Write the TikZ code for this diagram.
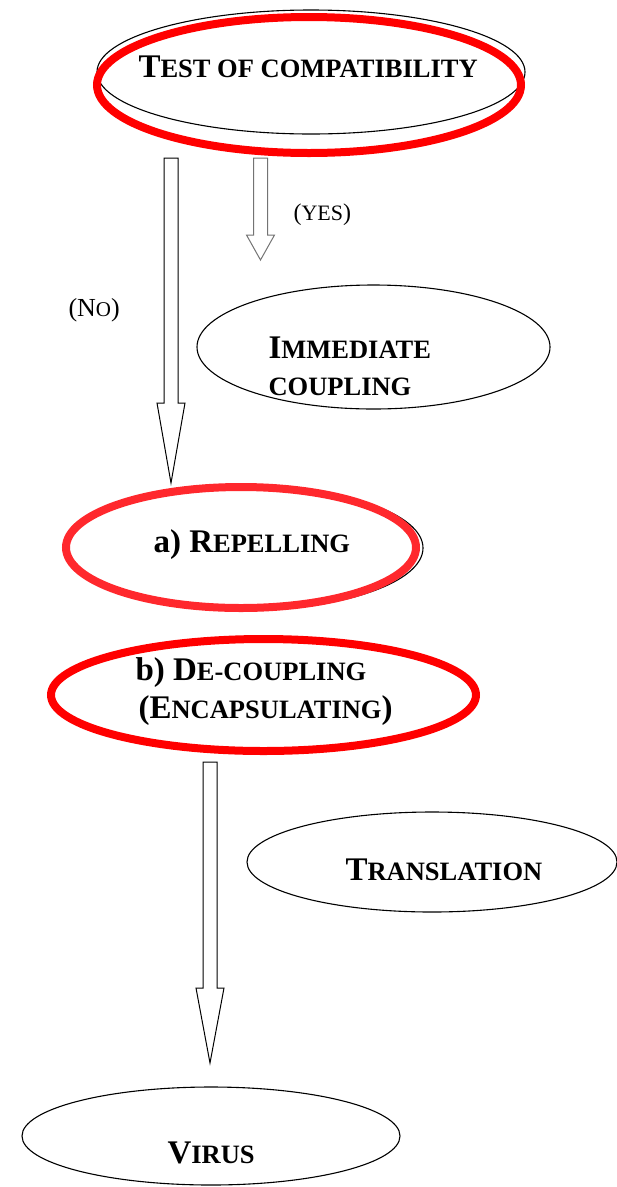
\documentclass[tikz,border=0pt]{standalone}
\usepackage{fontspec}
\setmainfont{Liberation Serif}
\usepackage{tikz}
\usetikzlibrary{shapes.geometric}
\usetikzlibrary{calc}
\usepackage{xcolor}
\definecolor{softred}{RGB}{255,40,45}
% small caps made by hand: first letter large, rest smaller
\newcommand\scword[2]{{\fontsize{33}{36}\selectfont#1}{\fontsize{26.5}{28}\selectfont#2}}
\newcommand\bigsym[1]{{\fontsize{33}{36}\selectfont#1}}
% hollow block arrow pointing down: options, top, tip, head length
\newcommand\hollowdown[4][]{\draw[#1] let \p1=(#2), \p2=(#3) in (\x1-7pt,\y1) -- (\x1-7pt,\y2+#4) -- (\x1-14pt,\y2+#4) -- (\x2,\y2) -- (\x1+14pt,\y2+#4) -- (\x1+7pt,\y2+#4) -- (\x1+7pt,\y1) -- cycle;}

\begin{document}
\begin{tikzpicture}[x=1pt,y=-1pt,line width=1.1pt,
  oval/.style={ellipse,draw,inner sep=0pt},
  redoval/.style={ellipse,draw=red,line width=8pt,inner sep=0pt},
  txt/.style={anchor=base west,inner sep=0pt,font=\bfseries}]
\useasboundingbox (0,0) rectangle (617,1187);

\node [oval,minimum width=428,minimum height=124] (test) at (311,72) {};
\node [redoval,minimum width=424,minimum height=136] (testred) at (309,85) {};
\node [txt] (testtext) at (138,77) {\scword{T}{EST OF COMPATIBILITY}};

\node [oval,minimum width=353,minimum height=124] (immediate) at (373.5,347) {};
\node [txt] (immtext1) at (268,358) {\scword{I}{MMEDIATE}};
\node [txt] (immtext2) at (268,395) {\fontsize{26.5}{28}\selectfont COUPLING};

\node [oval,minimum width=356,minimum height=124] (repel) at (245,548) {};
\node [redoval,draw=softred,minimum width=350,minimum height=121] (repelred) at (241,547.5) {};
\node [txt] (repeltext) at (153,552) {\bigsym{a) }\scword{R}{EPELLING}};

\node [redoval,minimum width=425,minimum height=112] (decoup) at (263.5,695) {};
\node [txt] (decouptext1) at (135,680) {\bigsym{b) }\scword{D}{E-COUPLING}};
\node [txt] (decouptext2) at (138,718) {\bigsym{(}\scword{E}{NCAPSULATING}\bigsym{)}};

\node [oval,minimum width=370,minimum height=100] (transl) at (432,862) {};
\node [txt] (transltext) at (345,880) {\scword{T}{RANSLATION}};

\node [oval,minimum width=378,minimum height=98] (virus) at (211,1136) {};
\node [txt] (virustext) at (167,1163) {\scword{V}{IRUS}};

\node [anchor=base west,inner sep=0pt] (yes) at (293,220) {{\fontsize{24}{26}\selectfont(}{\fontsize{22}{24}\selectfont YES}{\fontsize{24}{26}\selectfont)}};
\node [anchor=base west,inner sep=0pt] (no) at (68,316) {{\fontsize{26}{28}\selectfont(N}{\fontsize{21}{22}\selectfont O}{\fontsize{26}{28}\selectfont)}};

\coordinate (notop) at (171,158);
\coordinate (notip) at (171,483);
\coordinate (yestop) at (260.5,158);
\coordinate (yestip) at (260.5,260);
\coordinate (virtop) at (210,762);
\coordinate (virtip) at (210,1063);

\hollowdown[line width=1pt]{notop}{notip}{80pt}
\hollowdown[line width=1pt,black!55]{yestop}{yestip}{25pt}
\hollowdown[line width=1pt]{virtop}{virtip}{75pt}
\end{tikzpicture}
\end{document}
